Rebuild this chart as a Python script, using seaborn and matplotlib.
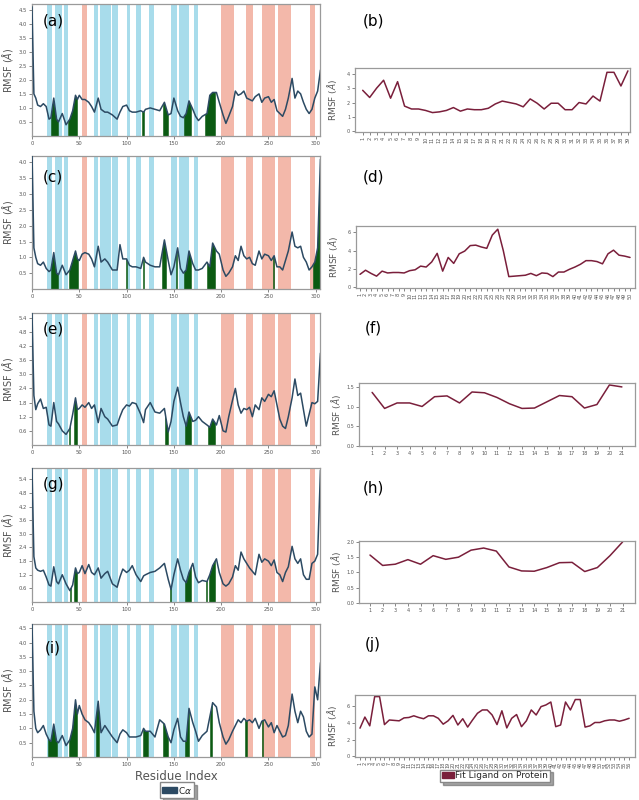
import numpy as np
import pandas as pd
import seaborn as sns
import matplotlib.pyplot as plt
from matplotlib.patches import Patch

# ---------------- data ----------------
residue = [0, 2, 4, 6, 9, 12, 15, 18, 20, 23, 26, 28, 32, 36, 40, 43, 46, 48, 50, 53,
           56, 60, 63, 66, 70, 73, 77, 80, 85, 90, 93, 96, 100, 103, 106, 110, 115, 118, 120, 125,
           130, 135, 140, 144, 147, 150, 154, 157, 160, 163, 166, 170, 173, 176, 180, 185, 188, 191, 195, 198,
           202, 205, 208, 212, 215, 218, 221, 224, 227, 230, 233, 236, 240, 243, 246, 250, 253, 256, 259, 262,
           265, 268, 271, 275, 278, 281, 284, 287, 290, 293, 296, 299, 302, 305]

rmsf_a = [4.6, 1.5, 1.35, 1.1, 1.05, 1.15, 1.05, 0.6, 0.65, 1.35, 0.6, 0.5, 0.8, 0.4, 0.6, 0.9, 1.45, 1.3, 1.45, 1.3,
          1.3, 1.2, 1.05, 0.85, 1.35, 0.95, 0.85, 0.85, 0.75, 0.6, 0.85, 1.05, 1.1, 0.9, 0.85, 0.85, 0.9, 0.85, 0.95, 1.0,
          0.95, 0.9, 1.2, 0.75, 0.8, 1.35, 0.9, 0.7, 0.65, 0.8, 1.25, 0.95, 0.7, 0.55, 0.7, 0.8, 1.45, 1.55, 1.55, 1.2,
          0.75, 0.45, 0.7, 1.05, 1.6, 1.45, 1.5, 1.6, 1.35, 1.3, 1.25, 1.4, 1.5, 1.2, 1.35, 1.4, 1.2, 1.3, 0.9, 0.8,
          0.7, 0.95, 1.35, 2.05, 1.35, 1.6, 1.5, 1.2, 0.95, 0.8, 0.95, 1.35, 1.6, 2.35]

rmsf_c = [4.3, 1.3, 1.0, 0.8, 0.75, 0.85, 0.65, 0.55, 0.6, 1.15, 0.5, 0.45, 0.75, 0.45, 0.6, 0.9, 1.2, 0.95, 0.9, 1.1,
          1.15, 1.1, 0.95, 0.7, 1.35, 0.85, 0.95, 0.85, 0.6, 0.6, 1.4, 0.95, 0.95, 0.75, 0.7, 0.7, 0.65, 1.0, 0.85, 0.75,
          0.7, 0.7, 1.55, 0.9, 0.45, 0.7, 1.3, 0.65, 0.5, 0.6, 1.2, 0.8, 0.6, 0.6, 0.65, 0.85, 0.7, 1.45, 1.2, 1.1,
          0.6, 0.4, 0.5, 0.7, 1.05, 0.9, 1.35, 1.05, 0.95, 1.0, 0.8, 0.75, 1.2, 0.95, 1.1, 1.05, 0.9, 1.05, 0.7, 0.7,
          0.6, 0.9, 1.2, 1.8, 1.35, 1.3, 1.35, 1.0, 0.85, 0.6, 0.7, 0.85, 1.3, 4.1]

rmsf_e = [5.6, 2.1, 1.5, 1.75, 1.95, 1.55, 1.6, 0.85, 0.8, 1.8, 1.0, 0.9, 0.6, 0.45, 0.7, 1.3, 2.0, 1.5, 1.55, 1.7,
          1.6, 1.8, 1.55, 1.7, 0.95, 1.55, 1.2, 1.1, 0.8, 0.85, 1.2, 1.5, 1.7, 1.65, 1.8, 1.75, 1.3, 0.95, 1.5, 1.8,
          1.4, 1.35, 1.55, 0.55, 1.0, 1.85, 2.45, 1.8, 1.2, 0.8, 1.4, 1.0, 1.05, 1.2, 1.0, 0.85, 0.75, 1.1, 0.85, 1.25,
          0.6, 0.55, 1.2, 1.9, 2.4, 1.7, 1.35, 1.55, 1.5, 1.6, 1.2, 1.7, 1.5, 2.0, 1.85, 2.15, 2.05, 2.3, 1.7, 1.1,
          0.8, 0.7, 1.2, 2.0, 2.8, 2.1, 2.2, 1.5, 0.8, 1.3, 1.8, 1.75, 1.85, 3.9]

rmsf_g = [5.9, 2.0, 1.5, 1.4, 1.35, 1.4, 1.1, 0.75, 0.7, 1.55, 0.9, 0.8, 1.2, 0.8, 0.5, 0.75, 1.5, 1.25, 1.3, 1.6,
          1.25, 1.65, 1.3, 1.2, 1.5, 1.05, 1.25, 1.35, 0.8, 0.65, 1.1, 1.45, 1.3, 1.4, 1.6, 1.2, 0.9, 1.15, 1.2, 1.3,
          1.35, 1.5, 1.7, 1.0, 0.55, 1.2, 1.9, 1.4, 1.0, 0.85, 1.3, 1.7, 1.1, 0.85, 0.95, 0.9, 1.2, 1.6, 1.9, 1.3,
          0.8, 0.7, 0.8, 1.1, 1.6, 1.4, 2.2, 1.9, 1.7, 1.5, 1.35, 1.2, 2.1, 1.75, 1.9, 1.8, 1.6, 1.85, 1.3, 1.2,
          0.9, 1.3, 1.55, 2.45, 1.9, 1.7, 1.9, 1.2, 1.0, 1.0, 1.7, 1.8, 2.1, 5.8]

rmsf_i = [4.7, 1.6, 1.0, 0.85, 0.95, 1.1, 0.8, 0.6, 0.55, 1.15, 0.55, 0.5, 0.75, 0.4, 0.6, 1.0, 2.0, 1.5, 1.8, 1.5,
          1.3, 1.2, 1.05, 0.85, 1.95, 0.85, 1.1, 0.95, 0.7, 0.5, 0.8, 0.95, 0.85, 0.7, 0.7, 0.7, 0.75, 1.0, 0.9, 0.9,
          0.7, 1.3, 1.15, 0.7, 0.5, 0.95, 1.35, 0.7, 0.55, 0.55, 1.7, 1.2, 0.9, 0.55, 0.75, 0.9, 1.4, 1.9, 1.75, 1.2,
          0.7, 0.45, 0.6, 0.9, 1.1, 1.3, 1.2, 1.35, 1.25, 1.3, 1.2, 1.35, 1.0, 1.25, 1.3, 1.05, 1.2, 0.85, 1.1, 0.9,
          0.7, 0.75, 1.1, 2.2, 1.6, 1.2, 1.6, 1.4, 0.9, 0.7, 0.8, 2.45, 2.0, 3.3]

# secondary structure spans (same protein in every panel)
strand_spans = [(15.8, 21.5), (24.3, 31.7), (33.8, 37.7), (65.8, 70), (71.8, 83), (84.8, 90.8),
                (100, 103.5), (109.8, 114.8), (123.9, 128.8), (146.8, 152.8), (154.9, 165.5), (171, 175)]
helix_spans = [(52.8, 58.1), (200.3, 213.7), (226, 233.7), (243, 257), (259.8, 273.5), (293.6, 299.6)]

# residues in contact with the ligand
contacts_a = [(20, 27), (38, 48), (116, 118), (138, 144), (161, 168), (183, 193)]
contacts_c = [(20, 27), (39.5, 49), (99, 100), (117, 118), (137, 142), (152.5, 153.5), (161, 168),
              (184.5, 193), (254.5, 255.5), (297, 305)]
contacts_e = [(39, 40), (44, 48), (140.5, 144), (162, 168), (186, 193)]
contacts_g = [(40, 41), (44, 48), (145.5, 146.5), (162, 168), (184, 185), (187, 194)]
contacts_i = [(17, 26), (39.5, 48), (67.5, 71), (117, 123), (139, 144), (161.5, 166), (188, 190.5),
              (225, 227.5), (243, 244.5)]

# ligand RMSF
lig_b = [2.85, 2.35, 3.0, 3.55, 2.3, 3.45, 1.75, 1.55, 1.55, 1.45, 1.3, 1.35, 1.45, 1.65, 1.4, 1.55,
         1.5, 1.5, 1.6, 1.9, 2.1, 2.0, 1.9, 1.7, 2.25, 1.95, 1.55, 1.95, 1.95, 1.5, 1.5, 2.0, 1.9, 2.45,
         2.1, 4.1, 4.1, 3.15, 4.2]
lig_d = [1.4, 1.85, 1.5, 1.2, 1.75, 1.55, 1.6, 1.6, 1.55, 1.8, 1.9, 2.3, 2.2, 2.75, 3.7, 1.75, 3.25,
         2.6, 3.65, 3.95, 4.55, 4.6, 4.4, 4.25, 5.7, 6.35, 4.0, 1.15, 1.2, 1.25, 1.3, 1.5, 1.25, 1.55,
         1.5, 1.15, 1.65, 1.65, 1.95, 2.2, 2.5, 2.9, 2.9, 2.8, 2.55, 3.65, 4.05, 3.5, 3.4, 3.25]
lig_f = [1.37, 0.96, 1.1, 1.1, 1.01, 1.26, 1.28, 1.1, 1.38, 1.36, 1.24, 1.08, 0.96, 0.97, 1.13, 1.29,
         1.26, 0.97, 1.06, 1.56, 1.51]
lig_h = [1.57, 1.23, 1.27, 1.42, 1.27, 1.55, 1.43, 1.5, 1.73, 1.8, 1.7, 1.18, 1.05, 1.04, 1.16, 1.32,
         1.33, 1.03, 1.16, 1.55, 2.0]
lig_j = [3.37, 4.7, 3.65, 7.15, 7.15, 3.8, 4.35, 4.3, 4.25, 4.6, 4.65, 4.85, 4.65, 4.5, 4.85, 4.85,
         4.55, 3.85, 4.25, 4.9, 3.75, 4.5, 3.5, 4.35, 5.15, 5.55, 5.55, 4.95, 3.8, 5.45, 3.4, 4.55, 5.0,
         3.55, 4.25, 5.55, 4.95, 5.95, 6.15, 6.5, 3.55, 3.75, 6.5, 5.55, 6.8, 6.8, 3.5, 3.65, 4.05, 4.05,
         4.25, 4.35, 4.35, 4.2, 4.35, 4.55]

# ---------------- styling ----------------
sns.set_style("white")
plt.rcParams['font.family'] = ['DejaVu Sans']

LINE_CA = '#2c4a63'
LINE_LIG = '#7a1f3b'
GREEN = '#0b5a12'
BLUE = '#a8dceb'
PINK = '#f3b8aa'
GREY = '#555555'
W, H = 639, 800

fig = plt.figure(figsize=(W / 100, H / 100), dpi=100)


def px_axes(left, top, right, bottom):
    return fig.add_axes([left / W, 1 - bottom / H, (right - left) / W, (bottom - top) / H])


def style_axes(ax, fs=3.8):
    for s in ax.spines.values():
        s.set_color('#9a9a9a')
        s.set_linewidth(0.9)
    ax.tick_params(axis='both', labelsize=fs, colors=GREY, length=2, width=0.5, pad=1.5,
                   left=True, bottom=True)


left_panels = [
    ('(a)', rmsf_a, contacts_a, 4, 136, 4.7, np.arange(0.5, 4.51, 0.5), 21),
    ('(c)', rmsf_c, contacts_c, 156, 289, 4.2, np.arange(0.5, 4.01, 0.5), 177),
    ('(e)', rmsf_e, contacts_e, 313, 445, 5.6, np.arange(0.6, 5.41, 0.6), 329),
    ('(g)', rmsf_g, contacts_g, 468, 602, 5.9, np.arange(0.6, 5.41, 0.6), 484),
    ('(i)', rmsf_i, contacts_i, 624, 757, 4.65, np.arange(0.5, 4.51, 0.5), 648),
]

for tag, vals, contacts, top, bottom, ymax, yt, ty in left_panels:
    ax = px_axes(32, top, 320, bottom)
    for a, b in strand_spans:
        ax.axvspan(a, b, color=BLUE, lw=0, zorder=0)
    for a, b in helix_spans:
        ax.axvspan(a, b, color=PINK, lw=0, zorder=0)
    # contact bars are clipped to the area under the RMSF curve
    under = ax.fill_between(residue, 0, vals, facecolor='none', edgecolor='none')
    clip = under.get_paths()[0]
    for a, b in contacts:
        sp = ax.axvspan(a, b, facecolor=GREEN, edgecolor=GREEN, lw=0.4, zorder=2)
        sp.set_clip_path(clip, ax.transData)
    df = pd.DataFrame({'res': residue, 'rmsf': vals})
    sns.lineplot(data=df, x='res', y='rmsf', color=LINE_CA, lw=1.1, ax=ax, zorder=3)
    ax.set_xlim(0, 304.5)
    ax.set_ylim(0, ymax)
    ax.set_xticks(range(0, 301, 50))
    ax.set_yticks(yt)
    ax.set_yticklabels([f'{v:.1f}' for v in yt])
    ax.set_xlabel('')
    ax.set_ylabel(r'RMSF ($\AA$)', fontsize=7, color=GREY)
    ax.yaxis.set_label_coords(-0.058, 0.5)
    style_axes(ax)
    fig.text(53 / W, 1 - ty / H, tag, fontsize=11, ha='center', va='center', color='black')
    if tag == '(i)':
        ax.set_xlabel('Residue Index', fontsize=8.5, color=GREY, labelpad=2)

right_panels = [
    ('(b)', lig_b, 355, 68, 630, 132, (-0.1, 39.3), (-0.05, 4.4), [0, 1, 2, 3, 4], 90, 21, '{:.0f}'),
    ('(d)', lig_d, 356, 226, 635, 288, (0.27, 50.9), (-0.1, 6.7), [0, 2, 4, 6], 90, 177, '{:.0f}'),
    ('(f)', lig_f, 359, 383, 635, 446, (-0.05, 22.05), (0, 1.61), [0, 0.5, 1.0, 1.5], 0, 328, '{:.1f}'),
    ('(h)', lig_h, 359, 541, 635, 603, (0.13, 21.98), (0, 2.03), [0, 0.5, 1.0, 1.5, 2.0], 0, 488, '{:.1f}'),
    ('(j)', lig_j, 355, 695, 635, 757, (-0.02, 57.2), (-0.08, 7.34), [0, 2, 4, 6], 90, 645, '{:.0f}'),
]

for tag, vals, l, t, r, b, xl, yl, yt, rot, ty, fmt in right_panels:
    ax = px_axes(l, t, r, b)
    idx = list(range(1, len(vals) + 1))
    df = pd.DataFrame({'atom': idx, 'rmsf': vals})
    sns.lineplot(data=df, x='atom', y='rmsf', color=LINE_LIG, lw=1.1, ax=ax)
    ax.set_xlim(*xl)
    ax.set_ylim(*yl)
    ax.set_xticks(idx)
    ax.set_xticklabels([str(i) for i in idx], rotation=rot)
    ax.set_yticks(yt)
    ax.set_yticklabels([fmt.format(v) for v in yt])
    ax.set_xlabel('')
    ax.set_ylabel(r'RMSF ($\AA$)', fontsize=6.5, color=GREY)
    ax.yaxis.set_label_coords(-16 / (r - l), 0.5)
    style_axes(ax, fs=3.5)
    fig.text(373 / W, 1 - ty / H, tag, fontsize=11, ha='center', va='center', color='black')

# legends
leg1 = fig.legend(handles=[Patch(facecolor=LINE_CA, edgecolor=LINE_CA)], labels=['C$\\alpha$'],
                  loc='center', bbox_to_anchor=(177 / W, 1 - 790 / H), fontsize=6.5,
                  frameon=True, shadow=True, fancybox=False, handlelength=1.6, handleheight=0.6,
                  handletextpad=0.1, borderpad=0.25, borderaxespad=0)
leg1.get_frame().set_edgecolor('#888888')
leg2 = fig.legend(handles=[Patch(facecolor=LINE_LIG, edgecolor=LINE_LIG)], labels=['Fit Ligand on Protein'],
                  loc='center', bbox_to_anchor=(495 / W, 1 - 776 / H), fontsize=6.5,
                  frameon=True, shadow=True, fancybox=False, handlelength=1.4, handleheight=0.6,
                  handletextpad=0.1, borderpad=0.2, borderaxespad=0)
leg2.get_frame().set_edgecolor('#888888')

fig.savefig('out.png', dpi=100)
